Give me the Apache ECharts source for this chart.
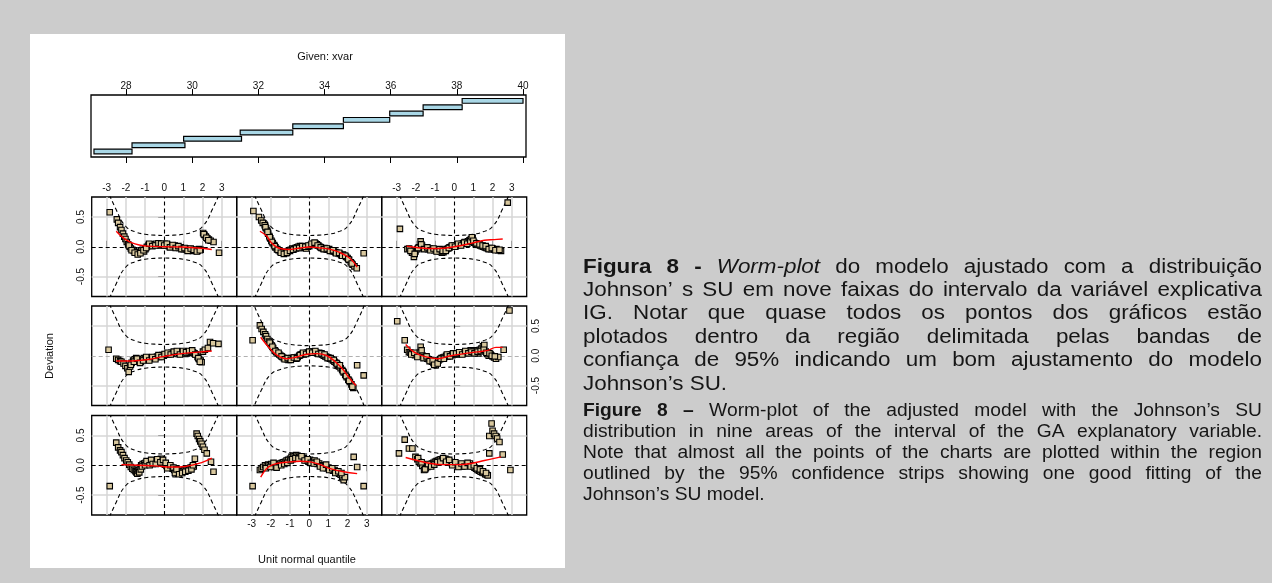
<!DOCTYPE html>
<html>
<head>
<meta charset="utf-8">
<script src="https://cdn.jsdelivr.net/npm/echarts@6/dist/echarts.min.js"></script>
<style>
  html, body { margin: 0; padding: 0; background: #cccccc; }
  #chart { width: 1272px; height: 583px; }
</style>
</head>
<body>
<div id="chart"></div>
<script>
// ---- conditioning intervals of xvar (bottom to top) ----
const givenStart = [27.03, 28.18, 29.74, 31.45, 33.04, 34.57, 35.97, 36.98, 38.16];
const givenEnd   = [28.18, 29.78, 31.49, 33.04, 34.57, 35.97, 36.98, 38.16, 40.00];
const givenTicks = [28, 30, 32, 34, 36, 38, 40];

// ---- worm-plot axes ----
const quantileTicks = [-3, -2, -1, 0, 1, 2, 3];
const deviationTicks = [-0.5, 0, 0.5];

// ---- 95% confidence band half-widths at bandX, one list per interval ----
const bandX = [-3.4, -3.0, -2.5, -2.0, -1.5, -1.0, -0.5, 0, 0.5, 1.0, 1.5, 2.0, 2.5, 3.0, 3.4];
const band1 = [1.55, 1.02, 0.62, 0.34, 0.25, 0.21, 0.195, 0.19, 0.195, 0.21, 0.25, 0.34, 0.62, 1.02, 1.55];
const band2 = [1.55, 1.02, 0.62, 0.34, 0.25, 0.21, 0.195, 0.19, 0.195, 0.21, 0.25, 0.34, 0.62, 1.02, 1.55];
const band3 = [1.55, 1.02, 0.62, 0.34, 0.25, 0.21, 0.195, 0.19, 0.195, 0.21, 0.25, 0.34, 0.62, 1.02, 1.55];
const band4 = [1.55, 1.02, 0.62, 0.34, 0.25, 0.21, 0.195, 0.19, 0.195, 0.21, 0.25, 0.34, 0.62, 1.02, 1.55];
const band5 = [1.50, 0.98, 0.58, 0.31, 0.23, 0.19, 0.175, 0.17, 0.175, 0.19, 0.23, 0.31, 0.58, 0.98, 1.50];
const band6 = [1.55, 1.02, 0.62, 0.34, 0.25, 0.21, 0.195, 0.19, 0.195, 0.21, 0.25, 0.34, 0.62, 1.02, 1.55];
const band7 = [1.55, 1.02, 0.62, 0.34, 0.25, 0.21, 0.195, 0.19, 0.195, 0.21, 0.25, 0.34, 0.62, 1.02, 1.55];
const band8 = [1.55, 1.02, 0.62, 0.34, 0.25, 0.21, 0.195, 0.19, 0.195, 0.21, 0.25, 0.34, 0.62, 1.02, 1.55];
const band9 = [1.55, 1.02, 0.62, 0.34, 0.25, 0.21, 0.195, 0.19, 0.195, 0.21, 0.25, 0.34, 0.62, 1.02, 1.55];

// ---- detrended Q-Q points [unit normal quantile, deviation] per interval ----
const worm1 = [[-2.84,-0.35],[-2.50,0.38],[-2.40,0.30],[-2.30,0.25],[-2.23,0.22],[-2.15,0.17],[-2.07,0.12],[-1.98,0.08],[-1.90,0.05],[-1.82,0.01],[-1.74,-0.03],[-1.66,-0.06],[-1.58,-0.08],[-1.50,-0.10],[-1.45,-0.12],[-1.40,-0.14],[-1.34,-0.09],[-1.27,-0.04],[-1.20,0.00],[-1.12,0.02],[-1.04,0.03],[-0.96,0.04],[-0.88,0.01],[-0.80,0.03],[-0.72,0.06],[-0.64,0.04],[-0.56,0.07],[-0.48,0.05],[-0.40,0.08],[-0.32,0.06],[-0.24,0.09],[-0.17,0.11],[-0.10,0.06],[-0.03,0.03],[0.04,0.01],[0.12,-0.01],[0.20,-0.02],[0.28,-0.04],[0.36,-0.03],[0.44,-0.06],[0.52,-0.08],[0.60,-0.10],[0.68,-0.12],[0.74,-0.14],[0.82,-0.11],[0.90,-0.09],[0.98,-0.10],[1.06,-0.08],[1.14,-0.07],[1.22,-0.05],[1.30,-0.06],[1.38,-0.04],[1.46,-0.03],[1.54,-0.02],[1.60,0.11],[1.69,0.53],[1.75,0.49],[1.82,0.44],[1.88,0.40],[1.95,0.36],[2.02,0.31],[2.10,0.26],[2.22,0.20],[2.44,0.06],[2.57,-0.11],
  [-1.30,-0.12],[-1.22,-0.07],[-1.16,-0.02],[-1.00,0.00],[-0.92,0.07],[-0.76,0.00],[-0.68,0.09],[-0.60,0.02],[-0.44,0.02],[-0.36,0.10],[-0.20,0.05],[-0.06,0.09],[0.08,0.04],[0.16,-0.05],[0.32,0.00],[0.48,-0.04],[0.56,-0.13],[0.64,-0.07],[0.78,-0.15],[0.94,-0.13],[1.10,-0.11],[1.26,-0.09],[1.42,-0.07],[1.50,0.00]];
const worm2 = [[-2.95,-0.35],[-2.57,-0.08],[-2.48,-0.06],[-2.40,-0.03],[-2.30,0.00],[-2.22,-0.02],[-2.14,0.01],[-2.06,0.00],[-1.98,0.02],[-1.90,0.01],[-1.82,-0.03],[-1.74,-0.01],[-1.66,0.00],[-1.58,0.02],[-1.50,0.03],[-1.42,0.04],[-1.34,0.05],[-1.26,0.06],[-1.18,0.08],[-1.10,0.09],[-1.00,0.11],[-0.92,0.14],[-0.84,0.16],[-0.76,0.15],[-0.68,0.17],[-0.60,0.16],[-0.52,0.14],[-0.44,0.13],[-0.36,0.11],[-0.28,0.12],[-0.20,0.10],[-0.12,0.08],[-0.04,0.06],[0.04,0.09],[0.12,0.07],[0.20,0.05],[0.28,0.08],[0.36,0.04],[0.44,0.02],[0.52,0.03],[0.60,0.00],[0.68,-0.01],[0.76,-0.03],[0.84,-0.02],[0.92,-0.05],[1.00,-0.04],[1.08,-0.06],[1.16,-0.07],[1.24,-0.09],[1.32,-0.08],[1.40,-0.11],[1.48,-0.12],[1.56,-0.14],[1.64,-0.16],[1.72,-0.20],[1.80,-0.25],[1.86,-0.20],[2.32,0.14],[2.50,-0.03],[2.84,-0.35],
  [-2.26,-0.05],[-2.02,-0.03],[-1.86,0.04],[-1.70,-0.04],[-1.46,0.00],[-1.30,0.02],[-1.14,0.04],[-0.96,0.08],[-0.88,0.10],[-0.72,0.12],[-0.56,0.11],[-0.40,0.15],[-0.24,0.08],[-0.08,0.10],[0.08,0.04],[0.24,0.03],[0.40,0.06],[0.56,-0.02],[0.72,-0.05],[0.88,0.01],[1.04,-0.08],[1.20,-0.05],[1.36,-0.13],[1.52,-0.10],[1.68,-0.13]];
const worm3 = [[-2.88,0.20],[-2.58,0.43],[-2.36,0.28],[-2.18,0.28],[-2.02,0.14],[-1.92,0.10],[-1.84,0.06],[-1.75,0.03],[-1.66,-0.01],[-1.57,-0.08],[-1.48,-0.05],[-1.40,-0.03],[-1.32,-0.01],[-1.24,0.01],[-1.16,0.03],[-1.08,0.04],[-1.00,0.06],[-0.92,0.07],[-0.84,0.08],[-0.76,0.09],[-0.70,0.10],[-0.62,0.09],[-0.54,0.08],[-0.46,0.11],[-0.38,0.09],[-0.30,0.07],[-0.22,0.06],[-0.14,0.04],[-0.06,0.03],[0.02,0.02],[0.10,0.01],[0.18,0.00],[0.26,-0.01],[0.34,0.00],[0.42,-0.02],[0.50,0.01],[0.58,0.00],[0.66,0.02],[0.74,0.01],[0.82,0.03],[0.90,0.00],[0.98,-0.02],[1.06,-0.04],[1.14,-0.06],[1.22,-0.08],[1.30,-0.09],[1.38,-0.11],[1.46,-0.12],[1.54,-0.13],[1.62,-0.15],[1.70,-0.16],[1.75,-0.17],[1.83,0.20],[1.83,0.49],[1.95,0.70],[2.00,0.58],[2.08,0.53],[2.16,0.49],[2.24,0.45],[2.36,0.39],[2.53,0.18],[2.93,-0.08],
  [-1.88,0.12],[-1.70,0.05],[-1.52,-0.07],[-1.36,0.02],[-1.20,-0.02],[-1.04,0.01],[-0.88,0.05],[-0.72,0.06],[-0.58,0.12],[-0.42,0.06],[-0.26,0.09],[-0.10,0.00],[0.06,0.05],[0.22,-0.03],[0.38,0.03],[0.54,-0.02],[0.70,0.04],[0.86,-0.02],[1.02,0.00],[1.18,-0.05],[1.34,-0.07],[1.50,-0.10],[1.66,-0.13]];
const worm4 = [[-2.90,0.10],[-2.50,-0.05],[-2.40,-0.07],[-2.30,-0.09],[-2.23,-0.10],[-2.12,-0.13],[-2.02,-0.17],[-1.92,-0.21],[-1.85,-0.27],[-1.78,-0.18],[-1.70,-0.12],[-1.62,-0.08],[-1.54,-0.06],[-1.46,-0.04],[-1.38,-0.07],[-1.30,-0.09],[-1.22,-0.10],[-1.14,-0.06],[-1.06,-0.04],[-0.98,-0.05],[-0.90,-0.07],[-0.82,-0.06],[-0.74,-0.04],[-0.66,-0.05],[-0.58,-0.03],[-0.50,-0.04],[-0.42,-0.02],[-0.34,-0.01],[-0.26,-0.02],[-0.18,0.00],[-0.10,0.01],[-0.02,0.00],[0.06,0.02],[0.14,0.03],[0.22,0.02],[0.30,0.04],[0.38,0.05],[0.46,0.04],[0.54,0.06],[0.62,0.05],[0.70,0.03],[0.78,0.05],[0.86,0.04],[0.94,0.06],[1.02,0.05],[1.10,0.03],[1.18,0.04],[1.26,0.06],[1.34,0.05],[1.42,0.07],[1.50,0.06],[1.58,0.04],[1.66,0.02],[1.74,-0.02],[1.82,-0.06],[1.90,-0.08],[1.95,-0.11],[2.02,0.07],[2.12,0.10],[2.28,0.13],[2.39,0.23],[2.55,0.21],[2.83,0.20],
  [-1.74,-0.15],[-1.58,-0.10],[-1.42,-0.05],[-1.26,-0.12],[-1.10,-0.08],[-0.94,-0.02],[-0.78,-0.08],[-0.62,-0.02],[-0.46,-0.06],[-0.30,0.01],[-0.14,-0.02],[0.02,0.03],[0.18,0.05],[0.34,0.02],[0.50,0.07],[0.66,0.08],[0.82,0.02],[0.98,0.08],[1.14,0.06],[1.30,0.08],[1.46,0.09],[1.62,0.02],[1.78,-0.04],[1.86,-0.10]];
const worm5 = [[-2.95,0.26],[-2.57,0.51],[-2.48,0.45],[-2.39,0.40],[-2.30,0.36],[-2.25,0.33],[-2.18,0.28],[-2.10,0.24],[-2.02,0.20],[-1.95,0.17],[-1.88,0.13],[-1.80,0.09],[-1.72,0.06],[-1.64,0.04],[-1.56,0.02],[-1.48,0.00],[-1.40,-0.02],[-1.32,-0.04],[-1.24,-0.05],[-1.16,-0.06],[-1.08,-0.07],[-1.00,-0.05],[-0.92,-0.04],[-0.84,-0.05],[-0.76,-0.03],[-0.68,-0.05],[-0.60,-0.02],[-0.52,0.00],[-0.44,0.02],[-0.36,0.03],[-0.28,0.02],[-0.20,0.04],[-0.12,0.05],[-0.04,0.05],[0.04,0.06],[0.12,0.07],[0.20,0.06],[0.28,0.07],[0.36,0.05],[0.44,0.04],[0.52,0.05],[0.60,0.03],[0.68,0.02],[0.76,0.00],[0.84,-0.01],[0.92,-0.02],[1.00,-0.03],[1.08,-0.05],[1.16,-0.06],[1.24,-0.08],[1.32,-0.10],[1.40,-0.12],[1.48,-0.15],[1.56,-0.18],[1.64,-0.21],[1.72,-0.24],[1.80,-0.28],[1.88,-0.32],[1.96,-0.36],[2.04,-0.40],[2.12,-0.44],[2.20,-0.48],[2.30,-0.54],[2.50,-0.16],[2.84,-0.33],
  [-2.06,0.22],[-1.92,0.15],[-1.76,0.08],[-1.60,0.05],[-1.44,-0.01],[-1.28,-0.06],[-1.12,-0.04],[-0.96,-0.07],[-0.80,-0.03],[-0.64,-0.04],[-0.48,0.01],[-0.32,0.05],[-0.16,0.03],[0.00,0.07],[0.16,0.05],[0.32,0.08],[0.48,0.03],[0.64,0.04],[0.80,0.02],[0.96,-0.04],[1.12,-0.04],[1.28,-0.07],[1.44,-0.13],[1.60,-0.16],[1.76,-0.26],[1.92,-0.34],[2.08,-0.42],[2.25,-0.52]];
const worm6 = [[-2.97,0.58],[2.88,0.76],[-2.58,0.26],[-2.45,0.10],[-2.36,0.06],[-2.28,0.05],[-2.20,0.04],[-2.12,0.03],[-2.04,0.01],[-1.96,0.02],[-1.88,0.00],[-1.80,0.05],[-1.75,0.15],[-1.70,0.09],[-1.64,0.00],[-1.56,-0.02],[-1.48,-0.03],[-1.40,-0.05],[-1.32,-0.06],[-1.24,-0.08],[-1.16,-0.10],[-1.08,-0.12],[-1.00,-0.14],[-0.96,-0.16],[-0.90,-0.11],[-0.82,-0.08],[-0.74,-0.06],[-0.66,-0.04],[-0.58,-0.03],[-0.50,-0.02],[-0.42,0.00],[-0.34,-0.01],[-0.26,0.01],[-0.18,0.02],[-0.10,0.01],[-0.02,0.02],[0.06,0.03],[0.14,0.02],[0.22,0.04],[0.30,0.03],[0.38,0.05],[0.46,0.04],[0.54,0.06],[0.62,0.05],[0.70,0.07],[0.78,0.06],[0.86,0.09],[0.94,0.05],[1.02,0.08],[1.10,0.06],[1.18,0.09],[1.26,0.04],[1.34,0.10],[1.42,0.12],[1.50,0.16],[1.57,0.18],[1.64,0.07],[1.72,0.03],[1.80,0.00],[1.90,0.02],[2.00,-0.01],[2.08,-0.03],[2.18,-0.05],[2.30,-0.02],[2.58,0.10],
  [-2.24,0.02],[-2.08,0.05],[-1.92,-0.02],[-1.60,-0.04],[-1.44,-0.01],[-1.28,-0.09],[-1.12,-0.08],[-1.04,-0.15],[-0.86,-0.13],[-0.70,-0.05],[-0.54,-0.05],[-0.38,0.02],[-0.22,-0.01],[-0.06,0.04],[0.10,0.04],[0.26,0.06],[0.42,0.02],[0.58,0.08],[0.74,0.04],[0.90,0.07],[1.06,0.04],[1.22,0.07],[1.38,0.08],[1.54,0.10],[1.68,0.05],[1.84,0.04],[1.96,0.00],[2.12,-0.01]];
const worm7 = [[-2.84,0.58],[-2.47,0.46],[-2.40,0.40],[-2.30,0.33],[-2.23,0.28],[-2.15,0.22],[-2.08,0.17],[-2.02,0.13],[-1.95,0.08],[-1.88,0.04],[-1.80,0.00],[-1.74,-0.03],[-1.66,-0.05],[-1.58,-0.07],[-1.50,-0.09],[-1.42,-0.10],[-1.35,-0.11],[-1.28,-0.09],[-1.20,-0.06],[-1.12,-0.05],[-1.05,-0.08],[-0.98,-0.04],[-0.90,0.00],[-0.82,0.02],[-0.74,0.03],[-0.66,0.04],[-0.58,0.03],[-0.50,0.04],[-0.42,0.05],[-0.35,0.03],[-0.28,0.04],[-0.20,0.02],[-0.12,0.03],[-0.05,0.04],[0.03,0.05],[0.10,0.02],[0.18,0.03],[0.25,0.01],[0.33,0.02],[0.40,0.00],[0.48,0.01],[0.55,0.02],[0.63,0.00],[0.70,-0.01],[0.78,-0.02],[0.86,-0.01],[0.94,-0.03],[1.02,-0.04],[1.10,-0.03],[1.18,-0.05],[1.26,-0.04],[1.34,-0.06],[1.42,-0.05],[1.50,-0.07],[1.58,-0.06],[1.66,-0.05],[1.74,-0.07],[1.82,-0.04],[1.90,-0.05],[2.03,0.23],[2.10,0.20],[2.17,0.17],[2.25,0.14],[2.33,0.12],[2.42,0.10],[2.57,0.08],[2.86,-0.10],
  [-1.84,0.02],[-1.70,-0.06],[-1.54,-0.10],[-1.38,-0.13],[-1.24,-0.11],[-1.08,-0.06],[-0.94,-0.02],[-0.78,0.05],[-0.62,0.01],[-0.46,0.02],[-0.30,0.06],[-0.16,0.05],[0.00,0.02],[0.14,0.05],[0.30,-0.01],[0.44,0.03],[0.60,-0.02],[0.74,0.01],[0.90,-0.04],[1.06,-0.02],[1.22,-0.07],[1.38,-0.03],[1.54,-0.05],[1.70,-0.08],[1.86,-0.06],[2.06,0.21],[2.20,0.15],[2.30,0.11]];
const worm8 = [[-2.91,0.60],[-2.62,0.50],[-2.50,0.44],[-2.42,0.40],[-2.32,0.36],[-2.25,0.31],[-2.20,0.27],[-2.14,0.22],[-2.08,0.18],[-2.03,0.14],[-1.97,0.10],[-1.90,0.06],[-1.83,0.03],[-1.76,-0.01],[-1.68,-0.04],[-1.60,-0.06],[-1.52,-0.08],[-1.44,-0.09],[-1.36,-0.10],[-1.28,-0.09],[-1.20,-0.11],[-1.12,-0.08],[-1.04,-0.06],[-0.96,-0.05],[-0.88,-0.03],[-0.80,-0.04],[-0.72,-0.02],[-0.64,-0.01],[-0.56,0.00],[-0.48,0.01],[-0.40,-0.01],[-0.32,-0.02],[-0.24,-0.01],[-0.16,-0.03],[-0.08,0.00],[0.00,0.01],[0.08,0.03],[0.16,0.04],[0.24,0.05],[0.32,0.06],[0.40,0.04],[0.48,0.02],[0.56,0.00],[0.64,-0.02],[0.72,-0.03],[0.80,-0.02],[0.88,-0.04],[0.96,-0.05],[1.04,-0.04],[1.12,-0.06],[1.20,-0.07],[1.28,-0.08],[1.36,-0.09],[1.44,-0.10],[1.52,-0.11],[1.60,-0.12],[1.68,-0.14],[1.76,-0.13],[1.84,-0.15],[1.92,-0.17],[2.00,-0.19],[2.08,-0.22],[2.17,-0.26],[2.26,-0.30],[2.36,-0.33],[2.48,-0.36],[2.84,-0.11],
  [-2.28,0.33],[-2.17,0.25],[-2.06,0.16],[-1.94,0.08],[-1.80,0.01],[-1.64,-0.05],[-1.48,-0.10],[-1.32,-0.12],[-1.16,-0.10],[-1.00,-0.07],[-0.84,-0.05],[-0.68,-0.03],[-0.52,-0.02],[-0.36,0.01],[-0.20,0.00],[-0.04,0.02],[0.12,0.05],[0.28,0.07],[0.44,0.02],[0.60,-0.01],[0.76,-0.04],[0.92,-0.03],[1.08,-0.07],[1.24,-0.06],[1.40,-0.11],[1.56,-0.10],[1.72,-0.15],[1.88,-0.15],[2.04,-0.21],[2.22,-0.28]];
const worm9 = [[-2.83,0.30],[2.79,0.74],[-2.44,-0.04],[-2.35,-0.03],[-2.20,-0.10],[-2.10,-0.17],[-2.02,-0.08],[-1.92,-0.04],[-1.84,-0.01],[-1.75,0.09],[-1.68,0.02],[-1.60,-0.01],[-1.52,-0.03],[-1.44,-0.02],[-1.36,-0.04],[-1.28,-0.03],[-1.20,-0.05],[-1.12,-0.04],[-1.04,-0.06],[-0.96,-0.05],[-0.88,-0.07],[-0.80,-0.06],[-0.72,-0.08],[-0.64,-0.10],[-0.56,-0.09],[-0.48,-0.05],[-0.40,-0.04],[-0.32,-0.03],[-0.24,-0.01],[-0.16,0.00],[-0.08,0.01],[0.00,0.02],[0.08,0.01],[0.16,0.03],[0.24,0.04],[0.32,0.03],[0.40,0.05],[0.48,0.06],[0.56,0.08],[0.64,0.07],[0.72,0.09],[0.80,0.11],[0.87,0.13],[0.96,0.15],[1.04,0.07],[1.12,0.05],[1.20,0.04],[1.28,0.03],[1.36,0.02],[1.44,0.01],[1.52,0.00],[1.60,-0.01],[1.68,-0.02],[1.76,-0.03],[1.84,-0.02],[1.92,-0.04],[2.00,-0.03],[2.10,-0.05],[2.20,-0.04],[2.30,-0.06],[2.44,-0.07],
  [-2.28,-0.07],[-2.06,-0.12],[-1.88,-0.02],[-1.72,0.04],[-1.56,-0.04],[-1.40,-0.01],[-1.24,-0.06],[-1.08,-0.03],[-0.92,-0.08],[-0.76,-0.04],[-0.60,-0.07],[-0.44,-0.07],[-0.28,-0.02],[-0.12,0.02],[0.04,0.00],[0.20,0.05],[0.36,0.02],[0.52,0.07],[0.68,0.05],[0.84,0.09],[0.92,0.16],[1.00,0.10],[1.16,0.06],[1.32,0.04],[1.48,0.02],[1.64,0.01],[1.80,-0.04],[1.96,-0.02],[2.15,-0.06],[2.36,-0.05]];

// ---- fitted cubic (red) per interval ----
const fit1 = [[-2.23,0.01],[-1.36,0.00],[-0.49,-0.01],[0.38,-0.03],[1.10,-0.02],[1.95,0.045],[2.48,0.12]];
const fit2 = [[-2.53,-0.20],[-2.13,-0.03],[-1.69,0.03],[-1.00,0.056],[-0.47,0.067],[0.05,0.056],[0.58,0.01],[1.10,-0.056],[1.80,-0.11],[2.50,-0.14]];
const fit3 = [[-2.53,0.13],[-1.92,0.08],[-1.22,0.03],[-0.52,0.01],[0.17,0.01],[0.87,0.03],[1.57,0.08],[2.44,0.14]];
const fit4 = [[-2.50,-0.087],[-1.71,-0.087],[-0.84,-0.064],[0.00,-0.01],[0.90,0.036],[1.78,0.06],[2.48,0.08]];
const fit5 = [[-2.53,0.31],[-2.13,0.15],[-1.69,0.01],[-1.17,-0.05],[-0.65,-0.02],[-0.12,0.025],[0.40,0.035],[0.93,0.00],[1.36,-0.10],[1.71,-0.21],[2.06,-0.36],[2.44,-0.50]];
const fit6 = [[-2.53,0.19],[-2.09,0.06],[-1.57,-0.01],[-0.87,-0.05],[-0.17,0.00],[0.52,0.035],[1.22,0.065],[1.75,0.09],[2.18,0.14],[2.53,0.14]];
const fit7 = [[-2.50,0.26],[-2.10,0.14],[-1.71,0.07],[-1.30,0.03],[-0.84,0.01],[0.00,0.00],[0.90,-0.005],[1.78,-0.02],[2.48,-0.045]];
const fit8 = [[-2.57,0.26],[-2.22,0.18],[-1.95,0.06],[-1.52,-0.03],[-0.99,-0.045],[-0.47,-0.02],[0.00,-0.005],[0.58,-0.02],[1.10,-0.045],[1.62,-0.10],[2.15,-0.20],[2.50,-0.34]];
const fit9 = [[-2.48,0.01],[-1.75,-0.02],[-0.87,-0.03],[0.00,0.00],[0.87,0.056],[1.57,0.11],[2.09,0.12],[2.53,0.13]];

const worms = [worm1, worm2, worm3, worm4, worm5, worm6, worm7, worm8, worm9];
const fits  = [fit1, fit2, fit3, fit4, fit5, fit6, fit7, fit8, fit9];
const bands = [band1, band2, band3, band4, band5, band6, band7, band8, band9];

// ---- caption ----
const captionPt = [
  '**Figura** **8** **-** __Worm-plot__ do modelo ajustado com a distribuição',
  'Johnson’ s SU em nove faixas do intervalo da variável explicativa',
  'IG. Notar que quase todos os pontos dos gráficos estão',
  'plotados dentro da região delimitada pelas bandas de',
  'confiança de 95% indicando um bom ajustamento do modelo',
  'Johnson’s SU.'
];
const captionEn = [
  '**Figure** **8** **–** Worm-plot of the adjusted model with the Johnson’s SU',
  'distribution in nine areas of the interval of the GA explanatory variable.',
  'Note that almost all the points of the charts are plotted within the region',
  'outlined by the 95% confidence strips showing one good fitting of the',
  'Johnson’s SU model.'
];

// ================= layout =================
const FONT = 'Liberation Sans';
const colLeft = [91.7, 236.7, 381.7];
const rowTop = [197, 306, 415.5];
const PW = 145, PH = 99.5;
const XR = 3.78, YR = 0.835;
const TICK_FONT = 10;

const grids = [{ left: 91, top: 95, width: 435, height: 62, show: true, borderColor: '#000', borderWidth: 1.3, backgroundColor: 'transparent' }];
const xAxes = [
  { gridIndex: 0, type: 'value', min: 26.94, max: 40.09, position: 'top',
    axisLine: { show: false }, splitLine: { show: false },
    axisTick: { show: true, length: 6, customValues: givenTicks, lineStyle: { color: '#000', width: 1 } },
    axisLabel: { show: true, customValues: givenTicks, margin: 4, fontSize: TICK_FONT, color: '#111', fontFamily: FONT } },
  { gridIndex: 0, type: 'value', min: 26.94, max: 40.09, position: 'bottom',
    axisLine: { show: false }, splitLine: { show: false },
    axisTick: { show: true, length: 6, customValues: givenTicks, lineStyle: { color: '#000', width: 1 } },
    axisLabel: { show: false } }
];
const yAxes = [{ gridIndex: 0, type: 'value', min: 0.13, max: 9.93, show: false }];

const series = [{
  type: 'custom', xAxisIndex: 0, yAxisIndex: 0, z: 3,
  data: givenStart.map((s, i) => [s, givenEnd[i], i + 1]),
  encode: { x: [0, 1], y: 2 },
  renderItem(params, api) {
    const a = api.coord([api.value(0), api.value(2)]);
    const b = api.coord([api.value(1), api.value(2)]);
    const h = api.size([0, 0.75])[1];
    return { type: 'rect', shape: { x: a[0], y: a[1] - h / 2, width: b[0] - a[0], height: h },
      style: { fill: '#a9d7e6', stroke: '#000', lineWidth: 1.2 } };
  }
}];

// which outer sides carry ticks/labels (coplot alternation)
const topTicks = { 7: true, 9: true };
const bottomTicks = { 2: true };
const leftTicks = { 7: true, 1: true };
const rightTicks = { 6: true };

for (let k = 1; k <= 9; k++) {
  const row = 2 - Math.floor((k - 1) / 3);
  const col = (k - 1) % 3;
  const gi = grids.length;
  grids.push({ left: colLeft[col], top: rowTop[row], width: PW, height: PH, show: true,
    borderColor: '#000', borderWidth: 1.3, backgroundColor: 'transparent' });
  const hasX = topTicks[k] || bottomTicks[k];
  const xi = xAxes.length;
  xAxes.push({ gridIndex: gi, type: 'value', min: -XR, max: XR, position: bottomTicks[k] ? 'bottom' : 'top',
    axisLine: { show: false }, splitLine: { show: false },
    axisTick: { show: !!hasX, length: 6, customValues: quantileTicks, lineStyle: { color: '#000', width: 1 } },
    axisLabel: { show: !!hasX, customValues: quantileTicks, margin: 4, fontSize: TICK_FONT, color: '#111', fontFamily: FONT } });
  const hasY = leftTicks[k] || rightTicks[k];
  const yi = yAxes.length;
  yAxes.push({ gridIndex: gi, type: 'value', min: -YR, max: YR, position: rightTicks[k] ? 'right' : 'left',
    axisLine: { show: false }, splitLine: { show: false },
    axisTick: { show: !!hasY, length: 6, customValues: deviationTicks, lineStyle: { color: '#000', width: 1 } },
    axisLabel: { show: !!hasY, customValues: deviationTicks, rotate: 90, margin: 5, fontSize: TICK_FONT, color: '#111', fontFamily: FONT,
      formatter: v => v.toFixed(1) } });

  const half = bands[k - 1];
  const zeroColor = row === 1 ? '#b0b0b0' : '#000';
  // upper band, carries the light reference grid
  series.push({
    type: 'line', xAxisIndex: xi, yAxisIndex: yi, z: 2, smooth: 0.5, showSymbol: false, silent: true,
    data: bandX.map((x, i) => [x, half[i]]),
    lineStyle: { color: '#000', width: 1.1, type: [4, 3] },
    markLine: { silent: true, symbol: ['none', 'none'], z: 1, label: { show: false }, animation: false,
      lineStyle: { color: '#d6d6d6', width: 1.5, type: 'solid' },
      data: quantileTicks.filter(v => v !== 0).map(v => ({ xAxis: v }))
        .concat(deviationTicks.filter(v => v !== 0).map(v => ({ yAxis: v }))) }
  });
  // lower band, carries the dashed zero lines
  series.push({
    type: 'line', xAxisIndex: xi, yAxisIndex: yi, z: 2, smooth: 0.5, showSymbol: false, silent: true,
    data: bandX.map((x, i) => [x, -half[i]]),
    lineStyle: { color: '#000', width: 1.1, type: [4, 3] },
    markLine: { silent: true, symbol: ['none', 'none'], z: 2, label: { show: false }, animation: false,
      data: [
        { xAxis: 0, lineStyle: { color: '#000', width: 1.1, type: [4, 3] } },
        { yAxis: 0, lineStyle: { color: zeroColor, width: 1.1, type: [4, 3] } }
      ] }
  });
  series.push({
    type: 'scatter', xAxisIndex: xi, yAxisIndex: yi, z: 3, silent: true,
    symbol: 'rect', symbolSize: 5.5,
    itemStyle: { color: '#d9c89e', borderColor: '#000', borderWidth: 1.1, opacity: 1 },
    data: worms[k - 1]
  });
  series.push({
    type: 'line', xAxisIndex: xi, yAxisIndex: yi, z: 4, smooth: 0.4, showSymbol: false, silent: true,
    data: fits[k - 1], lineStyle: { color: '#ff0000', width: 1.4 }
  });
}

// ---- caption built word by word so that lines are justified ----
// glyphs are drawn slightly wide (scaleX) as in the printed page
const measure = document.createElement('canvas').getContext('2d');
function parseToken(t) {
  let m = /^\*\*(.*)\*\*$/.exec(t);
  if (m) return { text: m[1], weight: 'bold', style: 'normal' };
  m = /^__(.*)__$/.exec(t);
  if (m) return { text: m[1], weight: 'normal', style: 'italic' };
  return { text: t, weight: 'normal', style: 'normal' };
}
function captionText(lines, top, lead, size, stretch, left, right) {
  const out = [];
  lines.forEach((line, li) => {
    const toks = line.split(' ').map(parseToken);
    toks.forEach(t => {
      measure.font = `${t.style} ${t.weight} ${size}px "${FONT}"`;
      t.w = measure.measureText(t.text).width * stretch;
    });
    measure.font = `normal normal ${size}px "${FONT}"`;
    const space = measure.measureText(' ').width * stretch;
    const used = toks.reduce((s, t) => s + t.w, 0);
    const last = li === lines.length - 1;
    const gap = last ? space : (right - left - used) / (toks.length - 1);
    let x = left;
    toks.forEach(t => {
      out.push({ type: 'text', x: x, y: top + li * lead, scaleX: stretch, z: 100, silent: true,
        style: { text: t.text, fontSize: size, fontFamily: FONT, fontWeight: t.weight, fontStyle: t.style,
          fill: '#161616', verticalAlign: 'middle' } });
      x += t.w + gap;
    });
  });
  return out;
}

const graphic = [
  { type: 'rect', z: -10, silent: true, shape: { x: 30, y: 34, width: 535, height: 534 }, style: { fill: '#ffffff' } },
  { type: 'text', z: 100, silent: true, x: 325, y: 57,
    style: { text: 'Given: xvar', fontSize: 11, fontFamily: FONT, fill: '#111', align: 'center', verticalAlign: 'middle' } },
  { type: 'text', z: 100, silent: true, x: 50, y: 356, rotation: Math.PI / 2,
    style: { text: 'Deviation', fontSize: 11, fontFamily: FONT, fill: '#111', align: 'center', verticalAlign: 'middle' } },
  { type: 'text', z: 100, silent: true, x: 307, y: 560,
    style: { text: 'Unit normal quantile', fontSize: 11, fontFamily: FONT, fill: '#111', align: 'center', verticalAlign: 'middle' } }
].concat(captionText(captionPt, 267, 23.4, 20, 1.12, 583, 1262))
 .concat(captionText(captionEn, 411, 21, 17.5, 1.1, 583, 1262));

const chart = echarts.init(document.getElementById('chart'), null, { renderer: 'canvas' });
chart.setOption({
  animation: false,
  backgroundColor: '#cccccc',
  textStyle: { fontFamily: FONT },
  grid: grids,
  xAxis: xAxes,
  yAxis: yAxes,
  series: series,
  graphic: graphic
});
</script>
</body>
</html>
